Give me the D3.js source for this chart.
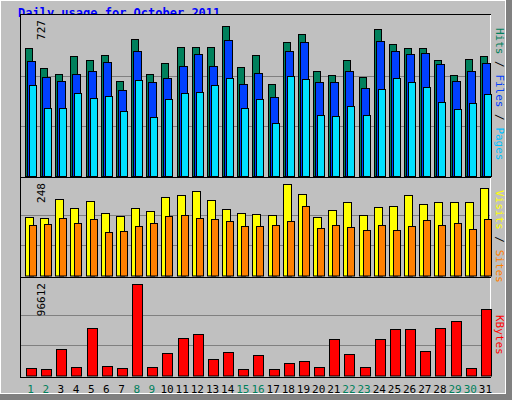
<!DOCTYPE html><html><head><meta charset="utf-8">
<script src="https://cdn.jsdelivr.net/npm/d3@7"></script>
<style>body{margin:0;background:#fff}</style></head><body><svg id="c" width="512" height="400"></svg>
<script>
const days=d3.range(1,32);
const weekend=[1,2,8,9,15,16,22,23,29,30];
const hits=[619,522,493,580,561,585,459,662,493,546,624,624,624,727,527,585,444,648,687,507,488,561,478,711,638,619,619,561,488,565,580];
const files=[556,478,459,493,507,551,415,604,454,473,532,590,532,658,444,498,381,604,648,454,454,507,425,653,604,590,595,541,459,507,546];
const pages=[439,328,328,401,376,386,313,464,284,372,401,406,439,473,328,372,255,483,469,294,289,338,294,420,473,454,430,357,323,352,396];
const visits=[158,155,207,183,202,169,161,183,174,213,218,229,204,180,169,166,164,248,221,158,177,199,164,185,188,218,193,199,199,199,237];
const sites=[136,139,155,142,153,117,120,134,142,161,164,155,153,147,134,134,136,147,188,128,136,131,123,136,123,134,150,136,142,125,153];
const kbytes=[7432,6370,27600,8490,49900,9555,7432,96612,8490,23360,39280,43530,16990,24420,6370,21230,6370,12740,14860,8490,38220,22300,8490,38220,48840,48840,25480,49900,57330,7432,70070];
const maxLabels=["727","248","96612"];

const svg=d3.select("#c");
svg.append("rect").attr("x",0).attr("y",0).attr("width",512).attr("height",400).attr("fill","#c0c0c0");
svg.append("rect").attr("x",0.5).attr("y",0.5).attr("width",505).attr("height",393).attr("fill","none").attr("stroke","#fff");
svg.append("rect").attr("x",506).attr("y",0).attr("width",6).attr("height",400).attr("fill","#808080");
svg.append("rect").attr("x",0).attr("y",394).attr("width",512).attr("height",6).attr("fill","#808080");
svg.append("text").attr("x",18).attr("y",17).attr("font-family","DejaVu Sans Mono").attr("font-weight","bold").attr("font-size",12).attr("fill","#0000ff").text("Daily usage for October 2011");

const x=d3.scaleBand().domain(days).range([21,491]).padding(0);
const panels=[{top:14,bot:177,base:176,ymax:26,max:727},{top:177,bot:277,base:275.5,ymax:184,max:248},{top:277,bot:377,base:375.5,ymax:284,max:96612}];
panels.forEach((p,i)=>{
  svg.append("rect").attr("x",20.5).attr("y",p.top+0.5).attr("width",470).attr("height",p.bot-p.top).attr("fill","#c0c0c0").attr("stroke","#000");
  svg.append("line").attr("x1",490.5).attr("x2",490.5).attr("y1",p.top+1).attr("y2",p.bot).attr("stroke","#fff");
  p.y=d3.scaleLinear().domain([0,p.max]).range([p.base,p.ymax]);
  [1/3,2/3].forEach(f=>svg.append("line").attr("x1",21).attr("x2",490).attr("y1",Math.round(p.y(p.max*f))+0.5).attr("y2",Math.round(p.y(p.max*f))+0.5).attr("stroke","#808080"));
  svg.append("text").attr("transform",`translate(45,${p.top+6}) rotate(-90)`).attr("text-anchor","end").attr("font-family","DejaVu Sans Mono").attr("font-size",11).attr("fill","#000").text(maxLabels[i]);
});
function bars(p,data,off,w,col){
  svg.append("g").selectAll("rect").data(data).join("rect")
   .attr("x",(d,i)=>Math.round(x(days[i]))+off+0.5).attr("y",d=>Math.round(p.y(d))+0.5)
   .attr("width",w).attr("height",d=>p.base-Math.round(p.y(d))).attr("fill",col).attr("stroke","#000");
}
bars(panels[0],hits,4,7,"#00805c");
bars(panels[0],files,6,8,"#0040ff");
bars(panels[0],pages,8,7,"#00e0ff");
bars(panels[1],visits,4,8,"#ffff00");
bars(panels[1],sites,8,7,"#ff8000");
bars(panels[2],kbytes,5,10,"#ff0000");
svg.append("g").selectAll("text").data(days).join("text").attr("x",d=>x(d)+x.bandwidth()/2+2).attr("y",393)
 .attr("text-anchor","middle").attr("font-family","DejaVu Sans Mono").attr("font-size",11)
 .attr("fill",d=>weekend.includes(d)?"#00805c":"#000").text(d=>d);
function side(y,parts){
  const t=svg.append("text").attr("transform",`translate(496,${y}) rotate(90)`).attr("font-family","DejaVu Sans Mono").attr("font-size",11);
  parts.forEach(([s,c])=>t.append("tspan").attr("fill",c).text(s));
}
side(28,[["Pages","#00c0ff"],[" / ","#000"],["Files","#0040ff"],[" / ","#000"],["Hits","#00805c"]].reverse());
side(190,[["Sites","#ff8000"],[" / ","#000"],["Visits","#ffff00"]].reverse());
side(315,[["KBytes","#ff0000"]]);
</script></body></html>
